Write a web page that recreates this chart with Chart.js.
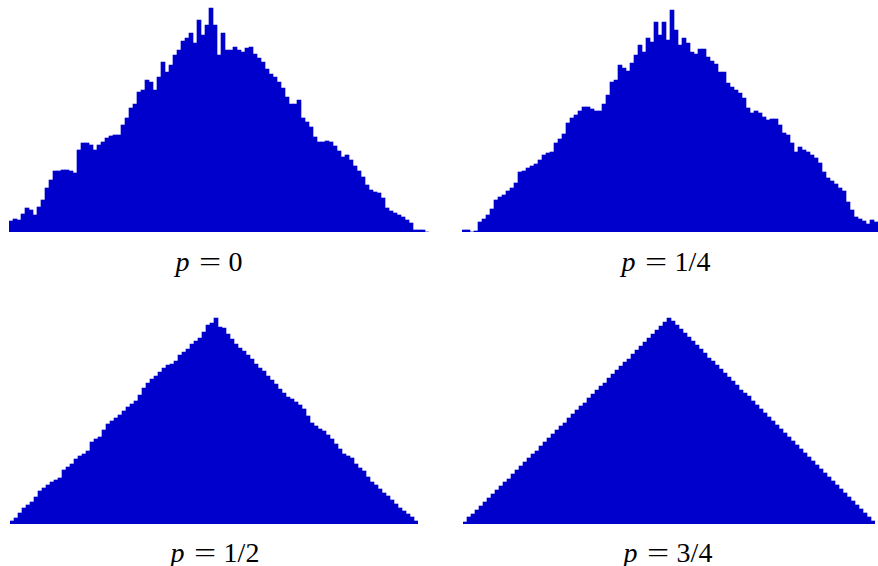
<!DOCTYPE html>
<html>
<head>
<meta charset="utf-8">
<script src="https://cdn.jsdelivr.net/npm/chart.js@4/dist/chart.umd.min.js"></script>
<style>
  html, body { margin: 0; padding: 0; background: #ffffff; }
  body { width: 878px; height: 566px; position: relative; overflow: hidden; }
  canvas { position: absolute; display: block; }
  .lbl {
    position: absolute; width: 200px; text-align: center;
    font-family: "Liberation Serif", "DejaVu Serif", serif;
    font-size: 28px; line-height: 28px; color: #000; white-space: nowrap;
  }
  .lbl i { font-style: italic; margin-right: 9px; }
  .lbl .rel { display: inline-block; width: 22px; text-align: center; transform: scaleX(1.4); margin-right: 8px; }
</style>
</head>
<body>
<canvas id="c0"></canvas>
<canvas id="c1"></canvas>
<canvas id="c2"></canvas>
<canvas id="c3"></canvas>
<div class="lbl" id="l0"></div>
<div class="lbl" id="l1"></div>
<div class="lbl" id="l2"></div>
<div class="lbl" id="l3"></div>
<script>
// ---- data (bin counts, arbitrary units) ----
const panelLabels = ["p = 0", "p = 1/4", "p = 1/2", "p = 3/4"];

const countsP0 = [11,13,12,18,24,22,17,25,32,44,52,61,61,62,62,61,59,82,89,89,87,82,87,90,94,96,97,97,107,114,124,128,140,142,152,150,142,155,170,160,167,177,182,191,194,199,189,212,197,207,224,207,177,199,182,182,185,182,180,184,185,178,174,170,163,158,155,150,144,135,128,128,132,114,110,105,95,90,90,91,90,86,81,75,77,72,66,61,55,47,42,40,39,34,24,21,19,17,15,12,9,2,2,2,0];

const countsP1 = [2,2,0,1,10,13,17,23,32,35,37,41,44,49,60,61,64,66,68,72,77,79,80,89,93,98,109,114,117,121,125,125,123,121,121,128,137,150,152,167,164,161,169,177,187,180,194,190,210,197,210,192,222,202,187,194,189,180,178,183,183,175,171,168,160,160,149,145,142,139,134,124,119,121,119,115,112,113,113,107,99,97,89,80,85,82,80,77,74,69,60,54,51,48,44,41,30,22,15,13,11,8,12,10];

const countsP2 = [3,6,11,16,19,22,27,33,36,39,42,44,46,54,57,60,65,68,70,73,82,85,87,94,100,103,106,109,113,117,120,123,129,136,141,145,148,152,156,159,160,163,169,172,175,180,183,186,192,199,201,206,197,196,190,185,180,176,173,169,165,160,156,153,148,144,140,135,131,127,125,122,119,115,108,101,98,95,93,89,85,80,75,70,68,66,60,56,53,47,42,39,35,31,28,24,20,16,13,10,7,3];

const countsP3 = [2,7,10,14,18,22,26,30,34,38,42,45,50,54,58,62,66,70,73,78,82,86,90,94,98,101,106,110,114,118,121,126,130,134,138,141,146,150,154,158,162,165,170,174,178,182,186,190,194,198,202,206,203,199,195,191,187,183,179,175,171,166,163,159,155,151,147,143,139,134,131,128,123,119,115,111,107,103,99,95,91,87,83,79,75,71,67,63,59,55,51,47,43,39,35,31,27,23,19,15,11,7,3];

const allCounts = [countsP0, countsP1, countsP2, countsP3];

// ---- layout (placement only) ----
const panels = [
  { left: 9,   top: 0,   width: 420, height: 232, yMax: 232, lx: 209, ly: 248 },
  { left: 462, top: 0,   width: 416, height: 232, yMax: 232, lx: 666, ly: 248 },
  { left: 10,  top: 300, width: 408, height: 224, yMax: 224, lx: 215, ly: 539 },
  { left: 463, top: 300, width: 412, height: 224, yMax: 224, lx: 668, ly: 539 }
];
const fillColor = "rgb(0,0,204)";

function labelHTML(txt) {
  const parts = txt.split(" = ");
  return '<i>' + parts[0] + '</i><span class="rel">=</span>' + parts[1];
}

panels.forEach((p, k) => {
  const cv = document.getElementById('c' + k);
  cv.width = p.width; cv.height = p.height;
  cv.style.left = p.left + 'px'; cv.style.top = p.top + 'px';
  cv.style.width = p.width + 'px'; cv.style.height = p.height + 'px';
  const counts = allCounts[k];
  new Chart(cv.getContext('2d'), {
    type: 'bar',
    data: {
      labels: counts.map((_, i) => String(i)),
      datasets: [{
        data: counts,
        backgroundColor: fillColor,
        borderWidth: 0,
        barPercentage: 1.0,
        categoryPercentage: 1.0
      }]
    },
    options: {
      responsive: false,
      maintainAspectRatio: false,
      animation: false,
      layout: { padding: 0 },
      plugins: { legend: { display: false }, tooltip: { enabled: false }, title: { display: false } },
      scales: {
        x: { display: false, offset: true, grid: { display: false } },
        y: { display: false, min: 0, max: p.yMax, grid: { display: false } }
      }
    }
  });
  const l = document.getElementById('l' + k);
  l.innerHTML = labelHTML(panelLabels[k]);
  l.style.left = (p.lx - 100) + 'px';
  l.style.top = p.ly + 'px';
});
</script>
</body>
</html>
